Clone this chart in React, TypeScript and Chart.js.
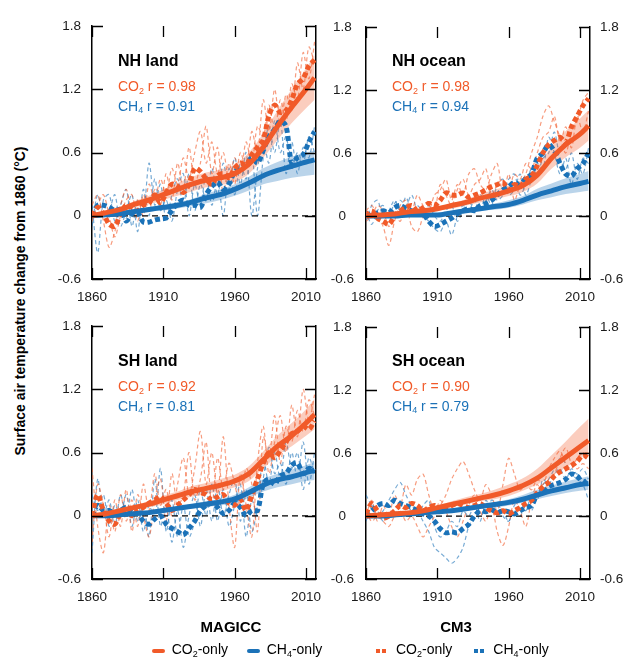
import React, { useEffect, useRef } from 'react';
import { Chart, registerables } from 'chart.js';

Chart.register(...registerables);

const FONT = '"Liberation Sans", Arial, Helvetica, sans-serif';
const ORANGE = '#F15A29';
const BLUE = '#1B72B8';
const ORANGE_BAND = 'rgba(241,90,41,0.30)';
const BLUE_BAND = 'rgba(27,114,184,0.30)';
const ORANGE_THIN = 'rgba(241,90,41,0.60)';
const BLUE_THIN = 'rgba(27,114,184,0.60)';

// ---------- shared axes ----------
const xTicks = [1860, 1910, 1960, 2010];
const yTicks = [-0.6, 0, 0.6, 1.2, 1.8];
const X_MIN = 1860;
const X_MAX = 2017;

// MAGICC years (decadal + last year)
const magYears = [1860, 1870, 1880, 1890, 1900, 1910, 1920, 1930, 1940, 1950, 1960, 1970, 1980, 1990, 2000, 2010, 2016];
// CM3 years (4-yearly)
const cm3Years = [1860, 1864, 1868, 1872, 1876, 1880, 1884, 1888, 1892, 1896,
  1900, 1904, 1908, 1912, 1916, 1920, 1924, 1928, 1932, 1936,
  1940, 1944, 1948, 1952, 1956, 1960, 1964, 1968, 1972, 1976,
  1980, 1984, 1988, 1992, 1996, 2000, 2004, 2008, 2012, 2016];

// ---------- NH land ----------
const nhLandMagCO2 = [0.0, 0.03, 0.06, 0.11, 0.15, 0.20, 0.25, 0.30, 0.34, 0.36, 0.40, 0.49, 0.65, 0.85, 1.03, 1.20, 1.31];
const nhLandMagCO2Lo = [0.0, 0.02, 0.04, 0.08, 0.11, 0.15, 0.19, 0.23, 0.27, 0.29, 0.32, 0.40, 0.55, 0.72, 0.88, 1.02, 1.10];
const nhLandMagCO2Hi = [0.0, 0.04, 0.08, 0.14, 0.19, 0.25, 0.31, 0.37, 0.41, 0.44, 0.49, 0.60, 0.78, 1.00, 1.20, 1.40, 1.52];
const nhLandMagCH4 = [0.0, 0.01, 0.02, 0.04, 0.06, 0.08, 0.10, 0.13, 0.17, 0.20, 0.25, 0.31, 0.38, 0.43, 0.47, 0.51, 0.53];
const nhLandMagCH4Lo = [0.0, 0.0, 0.01, 0.02, 0.04, 0.05, 0.07, 0.09, 0.12, 0.15, 0.19, 0.24, 0.30, 0.33, 0.36, 0.38, 0.39];
const nhLandMagCH4Hi = [0.0, 0.02, 0.03, 0.05, 0.08, 0.10, 0.13, 0.16, 0.21, 0.25, 0.30, 0.37, 0.45, 0.51, 0.56, 0.60, 0.62];
const nhLandCm3CO2 = [0.0, 0.08, 0.02, -0.08, -0.10, 0.02, 0.10, 0.08, 0.05, 0.10,
  0.12, 0.20, 0.12, 0.22, 0.30, 0.28, 0.22, 0.30, 0.45, 0.42,
  0.35, 0.30, 0.38, 0.40, 0.36, 0.45, 0.50, 0.48, 0.58, 0.65,
  0.72, 0.95, 1.05, 0.98, 1.00, 1.10, 1.25, 1.30, 1.42, 1.48];
const nhLandCm3CH4 = [0.0, 0.10, 0.10, 0.08, 0.05, 0.06, -0.05, 0.02, 0.03, -0.06,
  -0.06, -0.04, -0.03, -0.02, 0.05, 0.12, 0.15, 0.10, 0.10, 0.08,
  0.20, 0.28, 0.32, 0.25, 0.30, 0.42, 0.45, 0.48, 0.55, 0.50,
  0.62, 0.75, 0.82, 0.90, 0.85, 0.50, 0.55, 0.58, 0.70, 0.80];
const nhLandCO2RunA = [0.10, 0.20, -0.05, -0.30, -0.15, 0.10, 0.25, 0.05, 0.15, 0.00,
  0.30, 0.15, 0.35, 0.20, 0.45, 0.30, 0.55, 0.35, 0.60, 0.80,
  0.50, 0.70, 0.40, 0.60, 0.35, 0.55, 0.40, 0.70, 0.50, 0.85,
  0.75, 1.05, 0.80, 1.10, 0.90, 1.25, 1.10, 1.55, 1.30, 1.65];
const nhLandCO2RunB = [-0.05, 0.10, 0.20, 0.00, -0.20, 0.00, 0.15, 0.20, -0.05, 0.20,
  0.05, 0.25, 0.10, 0.40, 0.15, 0.50, 0.25, 0.65, 0.30, 0.50,
  0.85, 0.40, 0.65, 0.20, 0.50, 0.30, 0.60, 0.45, 0.80, 0.60,
  1.10, 0.80, 1.20, 0.85, 1.15, 1.00, 1.45, 1.20, 1.60, 1.45];
const nhLandCH4RunA = [0.10, -0.35, 0.15, 0.20, -0.05, 0.10, 0.25, -0.10, 0.15, 0.05,
  0.50, 0.10, 0.30, -0.05, 0.20, 0.35, 0.10, 0.40, 0.05, 0.30,
  0.15, 0.45, 0.20, 0.50, 0.25, 0.55, 0.30, 0.60, 0.00, 0.45,
  0.70, 0.50, 0.90, 0.60, 0.75, 0.45, 0.60, 0.50, 0.75, 0.60];
const nhLandCH4RunB = [-0.10, 0.20, 0.00, 0.05, 0.20, -0.10, 0.05, 0.20, -0.15, 0.25,
  0.00, 0.35, 0.05, 0.15, -0.05, 0.25, 0.40, 0.00, 0.30, 0.10,
  0.40, 0.10, 0.35, 0.00, 0.45, 0.20, 0.50, 0.35, 0.60, 0.00,
  0.55, 0.85, 0.60, 0.90, 0.40, 0.70, 0.40, 0.65, 0.55, 0.85];

// ---------- NH ocean ----------
const nhOceanMagCO2 = [0.0, 0.01, 0.02, 0.04, 0.05, 0.07, 0.10, 0.13, 0.17, 0.20, 0.24, 0.29, 0.39, 0.55, 0.68, 0.78, 0.86];
const nhOceanMagCO2Lo = [0.0, 0.0, 0.01, 0.02, 0.03, 0.05, 0.07, 0.10, 0.13, 0.16, 0.19, 0.23, 0.31, 0.45, 0.56, 0.65, 0.72];
const nhOceanMagCO2Hi = [0.0, 0.02, 0.03, 0.05, 0.07, 0.09, 0.12, 0.16, 0.21, 0.25, 0.29, 0.35, 0.47, 0.66, 0.81, 0.93, 1.01];
const nhOceanMagCH4 = [0.0, 0.0, 0.0, 0.01, 0.01, 0.01, 0.03, 0.05, 0.07, 0.09, 0.11, 0.15, 0.20, 0.24, 0.28, 0.31, 0.33];
const nhOceanMagCH4Lo = [0.0, 0.0, 0.0, 0.0, 0.0, 0.0, 0.02, 0.03, 0.05, 0.06, 0.08, 0.11, 0.15, 0.18, 0.21, 0.23, 0.24];
const nhOceanMagCH4Hi = [0.0, 0.01, 0.01, 0.02, 0.02, 0.03, 0.05, 0.07, 0.09, 0.12, 0.15, 0.19, 0.26, 0.31, 0.36, 0.40, 0.43];
const nhOceanCm3CO2 = [0.0, 0.05, -0.02, -0.05, -0.08, 0.00, 0.05, 0.08, 0.10, 0.05,
  0.08, 0.12, 0.10, 0.15, 0.22, 0.20, 0.20, 0.22, 0.18, 0.20,
  0.22, 0.25, 0.28, 0.30, 0.32, 0.25, 0.30, 0.28, 0.35, 0.38,
  0.48, 0.60, 0.68, 0.72, 0.75, 0.70, 0.85, 0.95, 1.05, 1.12];
const nhOceanCm3CH4 = [0.0, 0.02, 0.03, 0.05, 0.03, 0.08, 0.10, 0.07, 0.05, 0.03,
  0.02, -0.05, -0.10, -0.08, -0.05, -0.02, 0.02, 0.05, 0.07, 0.05,
  0.10, 0.12, 0.15, 0.20, 0.25, 0.28, 0.32, 0.30, 0.36, 0.40,
  0.55, 0.60, 0.68, 0.62, 0.50, 0.40, 0.38, 0.45, 0.50, 0.60];
const nhOceanCO2RunA = [0.05, 0.10, 0.00, -0.10, -0.28, -0.05, 0.10, 0.15, 0.05, 0.20,
  0.10, 0.05, 0.20, 0.25, 0.35, 0.15, 0.30, 0.20, 0.40, 0.45,
  0.30, 0.25, 0.40, 0.50, 0.20, 0.40, 0.15, 0.30, 0.40, 0.60,
  0.75, 0.95, 1.05, 0.90, 0.75, 0.60, 0.80, 0.90, 1.10, 1.18];
const nhOceanCO2RunB = [-0.05, 0.00, 0.10, 0.05, -0.10, 0.00, -0.05, 0.10, -0.10, -0.15,
  0.00, 0.15, 0.05, 0.30, 0.20, 0.10, 0.25, 0.35, 0.20, 0.30,
  0.35, 0.45, 0.20, 0.30, 0.35, 0.25, 0.40, 0.35, 0.50, 0.45,
  0.60, 0.75, 0.80, 0.95, 0.70, 0.85, 0.65, 0.95, 0.80, 1.00];
const nhOceanCH4RunA = [0.05, -0.08, 0.05, 0.10, 0.00, 0.12, 0.15, 0.10, 0.20, 0.05,
  0.00, -0.05, -0.12, -0.15, -0.05, -0.18, 0.00, 0.10, 0.05, 0.15,
  0.05, 0.20, 0.10, 0.30, 0.35, 0.20, 0.25, 0.40, 0.20, 0.35,
  0.50, 0.45, 0.75, 0.60, 0.40, 0.55, 0.30, 0.50, 0.40, 0.65];
const nhOceanCH4RunB = [-0.05, 0.10, 0.15, 0.00, 0.05, 0.15, 0.05, 0.18, 0.05, 0.10,
  0.05, 0.10, 0.00, -0.05, 0.05, 0.10, -0.05, 0.05, 0.15, 0.05,
  0.20, 0.15, 0.25, 0.15, 0.20, 0.35, 0.40, 0.20, 0.30, 0.45,
  0.40, 0.55, 0.60, 0.80, 0.55, 0.45, 0.60, 0.35, 0.55, 0.50];

// ---------- SH land ----------
const shLandMagCO2 = [0.0, 0.02, 0.05, 0.08, 0.11, 0.15, 0.19, 0.23, 0.26, 0.29, 0.33, 0.40, 0.53, 0.66, 0.76, 0.88, 0.96];
const shLandMagCO2Lo = [0.0, 0.01, 0.03, 0.06, 0.08, 0.11, 0.15, 0.18, 0.21, 0.23, 0.27, 0.33, 0.45, 0.57, 0.66, 0.76, 0.82];
const shLandMagCO2Hi = [0.0, 0.03, 0.07, 0.10, 0.14, 0.19, 0.23, 0.28, 0.31, 0.35, 0.39, 0.47, 0.61, 0.76, 0.88, 1.01, 1.11];
const shLandMagCH4 = [0.0, 0.0, 0.01, 0.02, 0.03, 0.05, 0.07, 0.09, 0.11, 0.13, 0.16, 0.22, 0.29, 0.34, 0.37, 0.41, 0.43];
const shLandMagCH4Lo = [0.0, 0.0, 0.0, 0.01, 0.02, 0.03, 0.05, 0.07, 0.08, 0.10, 0.12, 0.17, 0.23, 0.27, 0.30, 0.33, 0.34];
const shLandMagCH4Hi = [0.0, 0.01, 0.02, 0.03, 0.04, 0.07, 0.09, 0.11, 0.14, 0.16, 0.20, 0.27, 0.35, 0.40, 0.44, 0.48, 0.51];
const shLandCm3CO2 = [0.0, 0.20, 0.05, -0.05, -0.08, 0.02, 0.05, 0.00, 0.05, 0.08,
  0.12, 0.15, 0.18, 0.12, 0.05, 0.10, 0.15, 0.20, 0.25, 0.22,
  0.20, 0.15, 0.18, 0.20, 0.12, 0.10, 0.15, 0.05, 0.20, 0.35,
  0.50, 0.60, 0.55, 0.62, 0.70, 0.78, 0.80, 0.85, 0.82, 0.90];
const shLandCm3CH4 = [0.0, 0.10, 0.05, 0.05, 0.02, 0.05, 0.08, 0.03, 0.02, -0.05,
  -0.08, -0.03, 0.00, -0.08, -0.12, -0.15, -0.18, -0.12, -0.05, 0.05,
  0.10, 0.12, 0.08, 0.02, 0.05, 0.12, 0.08, 0.00, 0.05, 0.05,
  0.30, 0.35, 0.30, 0.38, 0.40, 0.48, 0.50, 0.40, 0.45, 0.42];
const shLandCO2RunA = [0.45, -0.10, -0.35, 0.10, -0.15, 0.20, -0.05, 0.15, -0.10, 0.30,
  0.05, 0.40, 0.10, 0.25, 0.00, 0.30, 0.55, 0.20, 0.45, 0.80,
  0.30, 0.60, 0.20, 0.75, 0.10, -0.30, 0.40, 0.10, -0.20, 0.50,
  0.85, 0.40, 0.70, 0.95, 0.60, 1.05, 0.75, 1.20, 0.90, 1.15];
const shLandCO2RunB = [-0.25, 0.30, 0.10, -0.20, 0.15, -0.10, 0.25, -0.15, 0.20, 0.00,
  -0.20, 0.15, 0.35, -0.05, 0.40, 0.10, 0.20, 0.60, 0.15, 0.35,
  0.70, 0.10, 0.55, 0.25, 0.50, 0.30, 0.10, 0.45, 0.30, -0.15,
  0.75, 0.55, 0.95, 0.50, 0.85, 0.70, 1.00, 0.80, 1.10, 0.95];
const shLandCH4RunA = [-0.35, 0.35, 0.00, 0.15, -0.10, 0.20, 0.00, 0.25, -0.05, 0.10,
  -0.20, 0.35, -0.10, 0.10, -0.25, 0.05, -0.30, 0.00, 0.20, -0.10,
  0.25, -0.05, 0.30, 0.00, 0.20, 0.35, -0.05, 0.25, -0.15, 0.10,
  0.55, 0.30, 0.60, 0.35, 0.70, 0.45, 0.60, 0.25, 0.55, 0.40];
const shLandCH4RunB = [0.20, 0.05, 0.20, -0.10, 0.10, 0.00, 0.20, -0.10, 0.15, -0.15,
  0.10, -0.05, 0.45, -0.15, 0.15, -0.20, 0.10, -0.20, -0.05, 0.25,
  0.00, 0.30, -0.05, 0.25, -0.10, 0.10, 0.30, -0.20, 0.15, 0.00,
  0.35, 0.65, 0.40, 0.50, 0.30, 0.60, 0.35, 0.70, 0.30, 0.60];

// ---------- SH ocean ----------
const shOceanMagCO2 = [0.0, 0.01, 0.02, 0.03, 0.05, 0.08, 0.11, 0.14, 0.17, 0.20, 0.24, 0.29, 0.36, 0.46, 0.56, 0.66, 0.72];
const shOceanMagCO2Lo = [0.0, 0.0, 0.01, 0.02, 0.04, 0.06, 0.09, 0.11, 0.14, 0.16, 0.19, 0.24, 0.30, 0.38, 0.46, 0.55, 0.60];
const shOceanMagCO2Hi = [0.0, 0.02, 0.03, 0.05, 0.07, 0.10, 0.14, 0.18, 0.21, 0.25, 0.30, 0.36, 0.45, 0.58, 0.71, 0.85, 0.93];
const shOceanMagCH4 = [0.0, 0.0, 0.01, 0.02, 0.03, 0.04, 0.05, 0.07, 0.09, 0.11, 0.13, 0.16, 0.20, 0.24, 0.27, 0.30, 0.31];
const shOceanMagCH4Lo = [0.0, 0.0, 0.0, 0.01, 0.02, 0.03, 0.04, 0.05, 0.07, 0.08, 0.10, 0.13, 0.16, 0.19, 0.22, 0.24, 0.25];
const shOceanMagCH4Hi = [0.0, 0.01, 0.02, 0.03, 0.04, 0.05, 0.07, 0.09, 0.11, 0.13, 0.16, 0.20, 0.25, 0.29, 0.33, 0.36, 0.38];
const shOceanCm3CO2 = [0.02, 0.12, 0.05, -0.02, 0.00, 0.05, 0.10, 0.08, 0.12, 0.10,
  0.05, 0.08, 0.10, 0.05, 0.08, 0.10, 0.12, 0.10, 0.08, 0.10,
  0.12, 0.08, 0.05, 0.03, 0.05, 0.02, 0.05, 0.08, 0.12, 0.15,
  0.22, 0.28, 0.32, 0.38, 0.42, 0.45, 0.48, 0.52, 0.58, 0.55];
const shOceanCm3CH4 = [0.0, 0.05, 0.10, 0.12, 0.10, 0.15, 0.12, 0.10, 0.08, 0.05,
  0.02, 0.00, -0.05, -0.12, -0.16, -0.15, -0.16, -0.12, -0.08, 0.00,
  0.05, 0.04, 0.06, 0.03, 0.05, 0.04, 0.02, 0.05, 0.08, 0.10,
  0.20, 0.22, 0.28, 0.30, 0.32, 0.35, 0.40, 0.38, 0.32, 0.35];
const shOceanCO2RunA = [0.00, 0.15, -0.05, 0.10, 0.00, 0.20, 0.10, 0.30, 0.20, 0.35,
  0.40, 0.20, 0.05, 0.10, 0.20, 0.35, 0.45, 0.52, 0.40, 0.25,
  0.15, 0.30, 0.20, 0.05, 0.30, 0.55, 0.40, 0.25, 0.30, 0.25,
  0.35, 0.30, 0.45, 0.55, 0.62, 0.50, 0.45, 0.55, 0.60, 0.60];
const shOceanCO2RunB = [0.05, -0.05, 0.00, -0.05, -0.10, 0.00, 0.05, -0.05, 0.00, -0.10,
  -0.20, -0.10, 0.00, 0.15, 0.05, -0.10, -0.20, -0.05, 0.10, 0.20,
  0.05, -0.05, 0.10, -0.15, -0.28, -0.10, 0.15, 0.05, -0.10, 0.15,
  0.30, 0.20, 0.35, 0.40, 0.55, 0.65, 0.50, 0.45, 0.50, 0.45];
const shOceanCH4RunA = [-0.05, 0.10, 0.00, 0.05, 0.15, 0.25, 0.32, 0.20, 0.10, 0.05,
  -0.05, -0.15, -0.30, -0.35, -0.40, -0.45, -0.40, -0.30, -0.10, 0.00,
  0.10, 0.05, 0.15, 0.10, 0.00, -0.05, 0.05, 0.00, 0.10, 0.05,
  0.20, 0.30, 0.35, 0.45, 0.55, 0.50, 0.40, 0.35, 0.30, 0.15];
const shOceanCH4RunB = [0.20, 0.10, 0.05, -0.05, 0.00, 0.05, 0.00, 0.10, 0.05, 0.00,
  0.10, 0.15, -0.10, -0.20, -0.15, -0.05, -0.10, 0.05, 0.00, 0.10,
  -0.05, 0.15, 0.05, 0.10, 0.05, -0.05, 0.10, 0.15, 0.05, 0.20,
  0.15, 0.35, 0.30, 0.40, 0.45, 0.35, 0.45, 0.40, 0.45, 0.35];

// ---------- panel text ----------
const panelTitles = ['NH land', 'NH ocean', 'SH land', 'SH ocean'];
const co2Corr = ['0.98', '0.98', '0.92', '0.90'];
const ch4Corr = ['0.91', '0.94', '0.81', '0.79'];

type Panel = {
  title: string; co2R: string; ch4R: string;
  left: number; top: number; isRight: boolean;
  magCO2: number[]; magCO2Lo: number[]; magCO2Hi: number[];
  magCH4: number[]; magCH4Lo: number[]; magCH4Hi: number[];
  cm3CO2: number[]; cm3CH4: number[];
  co2Runs: number[][]; ch4Runs: number[][];
};

const PLOT_W = 224;
const PLOT_H = 260;
const AX_L = 60;
const AX_R = 40;
const PAD_T = 12;
const AX_B = 30;

const panels: Panel[] = [
  { title: panelTitles[0], co2R: co2Corr[0], ch4R: ch4Corr[0], left: 92, top: 19, isRight: false,
    magCO2: nhLandMagCO2, magCO2Lo: nhLandMagCO2Lo, magCO2Hi: nhLandMagCO2Hi,
    magCH4: nhLandMagCH4, magCH4Lo: nhLandMagCH4Lo, magCH4Hi: nhLandMagCH4Hi,
    cm3CO2: nhLandCm3CO2, cm3CH4: nhLandCm3CH4,
    co2Runs: [nhLandCO2RunA, nhLandCO2RunB], ch4Runs: [nhLandCH4RunA, nhLandCH4RunB] },
  { title: panelTitles[1], co2R: co2Corr[1], ch4R: ch4Corr[1], left: 366, top: 19, isRight: true,
    magCO2: nhOceanMagCO2, magCO2Lo: nhOceanMagCO2Lo, magCO2Hi: nhOceanMagCO2Hi,
    magCH4: nhOceanMagCH4, magCH4Lo: nhOceanMagCH4Lo, magCH4Hi: nhOceanMagCH4Hi,
    cm3CO2: nhOceanCm3CO2, cm3CH4: nhOceanCm3CH4,
    co2Runs: [nhOceanCO2RunA, nhOceanCO2RunB], ch4Runs: [nhOceanCH4RunA, nhOceanCH4RunB] },
  { title: panelTitles[2], co2R: co2Corr[2], ch4R: ch4Corr[2], left: 92, top: 319, isRight: false,
    magCO2: shLandMagCO2, magCO2Lo: shLandMagCO2Lo, magCO2Hi: shLandMagCO2Hi,
    magCH4: shLandMagCH4, magCH4Lo: shLandMagCH4Lo, magCH4Hi: shLandMagCH4Hi,
    cm3CO2: shLandCm3CO2, cm3CH4: shLandCm3CH4,
    co2Runs: [shLandCO2RunA, shLandCO2RunB], ch4Runs: [shLandCH4RunA, shLandCH4RunB] },
  { title: panelTitles[3], co2R: co2Corr[3], ch4R: ch4Corr[3], left: 366, top: 319, isRight: true,
    magCO2: shOceanMagCO2, magCO2Lo: shOceanMagCO2Lo, magCO2Hi: shOceanMagCO2Hi,
    magCH4: shOceanMagCH4, magCH4Lo: shOceanMagCH4Lo, magCH4Hi: shOceanMagCH4Hi,
    cm3CO2: shOceanCm3CO2, cm3CH4: shOceanCm3CH4,
    co2Runs: [shOceanCO2RunA, shOceanCO2RunB], ch4Runs: [shOceanCH4RunA, shOceanCH4RunB] },
];

const TICK_LEN = 11;
const innerTicks = {
  id: 'innerTicks',
  afterDraw(chart: any) {
    const { ctx, chartArea: a, scales } = chart;
    ctx.save();
    ctx.strokeStyle = '#000';
    ctx.lineWidth = 1.3;
    ctx.beginPath();
    yTicks.forEach((v) => {
      const y = Math.round(scales.y.getPixelForValue(v)) + 0.5;
      ctx.moveTo(a.left, y); ctx.lineTo(a.left + TICK_LEN, y);
      ctx.moveTo(a.right, y); ctx.lineTo(a.right - TICK_LEN, y);
    });
    xTicks.forEach((v) => {
      const x = Math.round(scales.x.getPixelForValue(v)) + 0.5;
      ctx.moveTo(x, a.top); ctx.lineTo(x, a.top + TICK_LEN);
      ctx.moveTo(x, a.bottom); ctx.lineTo(x, a.bottom - TICK_LEN);
    });
    ctx.stroke();
    ctx.restore();
  },
};

const xy = (xs: number[], ys: number[]) => ys.map((y, i) => ({ x: xs[i], y }));

function PanelChart({ p }: { p: Panel }) {
  const ref = useRef<HTMLCanvasElement | null>(null);
  useEffect(() => {
    if (!ref.current) return;
    const tickFont = { family: FONT, size: 13.5 };
    const smooth = { pointRadius: 0, cubicInterpolationMode: 'monotone' as const, fill: false };
    const datasets: any[] = [
      { ...smooth, data: xy(magYears, p.magCO2), borderColor: ORANGE, borderWidth: 5 },
      { ...smooth, data: xy(magYears, p.magCH4), borderColor: BLUE, borderWidth: 5 },
      { data: xy(cm3Years, p.cm3CO2), borderColor: ORANGE, borderWidth: 5, borderDash: [5, 3], tension: 0.3, pointRadius: 0, fill: false },
      { data: xy(cm3Years, p.cm3CH4), borderColor: BLUE, borderWidth: 5, borderDash: [5, 3], tension: 0.3, pointRadius: 0, fill: false },
      { data: [{ x: X_MIN, y: 0 }, { x: X_MAX, y: 0 }], borderColor: '#000', borderWidth: 1.2, borderDash: [6, 4], pointRadius: 0, fill: false },
      { ...smooth, data: xy(magYears, p.magCO2Hi), borderWidth: 0, borderColor: 'rgba(0,0,0,0)', backgroundColor: ORANGE_BAND, fill: '+1' },
      { ...smooth, data: xy(magYears, p.magCO2Lo), borderWidth: 0, borderColor: 'rgba(0,0,0,0)' },
      { ...smooth, data: xy(magYears, p.magCH4Hi), borderWidth: 0, borderColor: 'rgba(0,0,0,0)', backgroundColor: BLUE_BAND, fill: '+1' },
      { ...smooth, data: xy(magYears, p.magCH4Lo), borderWidth: 0, borderColor: 'rgba(0,0,0,0)' },
      ...p.co2Runs.map((r) => ({ data: xy(cm3Years, r), borderColor: ORANGE_THIN, borderWidth: 1.2, borderDash: [4, 3], tension: 0.3, pointRadius: 0, fill: false })),
      ...p.ch4Runs.map((r) => ({ data: xy(cm3Years, r), borderColor: BLUE_THIN, borderWidth: 1.2, borderDash: [4, 3], tension: 0.3, pointRadius: 0, fill: false })),
    ];
    const yScale = (position: 'left' | 'right', show: boolean, align: 'near' | 'center', pad: number, width: number) => ({
      type: 'linear', position, min: -0.6, max: 1.8,
      grid: { display: false, drawTicks: false },
      border: { display: true, color: '#000', width: 1.5 },
      ticks: { display: show, font: tickFont, color: '#1a1a1a', padding: pad, crossAlign: align, autoSkip: false, callback: (v: any) => String(v) },
      afterBuildTicks: (s: any) => { s.ticks = yTicks.map((v) => ({ value: v })); },
      afterFit: (s: any) => { s.width = width; },
    });
    const chart = new Chart(ref.current, {
      type: 'line',
      data: { datasets },
      options: {
        responsive: false,
        animation: false,
        events: [],
        layout: { padding: { top: PAD_T, left: 0, right: 0, bottom: 0 } },
        plugins: { legend: { display: false }, tooltip: { enabled: false } },
        scales: {
          x: {
            type: 'linear', min: X_MIN, max: X_MAX,
            grid: { display: false, drawTicks: false },
            border: { display: true, color: '#000', width: 1.5 },
            ticks: { font: tickFont, color: '#1a1a1a', padding: 10, maxRotation: 0, autoSkip: false, callback: (v: any) => String(v) },
            afterBuildTicks: (s: any) => { s.ticks = xTicks.map((v) => ({ value: v })); },
            afterFit: (s: any) => { s.height = AX_B; },
          },
          y: yScale('left', true, p.isRight ? 'center' : 'near', p.isRight ? 12 : 11, AX_L),
          y2: yScale('right', p.isRight, 'near', 10, AX_R),
        } as any,
      },
      plugins: [innerTicks],
    } as any);
    return () => chart.destroy();
  }, [p]);
  return (
    <canvas
      ref={ref}
      width={AX_L + PLOT_W + AX_R}
      height={PAD_T + PLOT_H + AX_B}
      style={{ position: 'absolute', left: p.left - AX_L, top: p.top - PAD_T, width: AX_L + PLOT_W + AX_R, height: PAD_T + PLOT_H + AX_B }}
    />
  );
}

const Sub = ({ c }: { c: string }) => (
  <span style={{ fontSize: '0.64em', position: 'relative', top: '0.32em', lineHeight: 0 }}>{c}</span>
);

function PanelText({ p }: { p: Panel }) {
  const base: React.CSSProperties = { position: 'absolute', left: p.left + 26, whiteSpace: 'nowrap', fontFamily: FONT };
  return (
    <>
      <div style={{ ...base, top: p.top + 33.5, fontSize: 16, lineHeight: '16px', fontWeight: 'bold', color: '#000' }}>{p.title}</div>
      <div style={{ ...base, top: p.top + 60, fontSize: 14, lineHeight: '14px', color: ORANGE }}>CO<Sub c="2" /> r = {p.co2R}</div>
      <div style={{ ...base, top: p.top + 79.5, fontSize: 14, lineHeight: '14px', color: BLUE }}>CH<Sub c="4" /> r = {p.ch4R}</div>
    </>
  );
}

function LegendEntry({ kind, color, sx, tx, gas, sub }: { kind: 'solid' | 'dotted'; color: string; sx: number; tx: number; gas: string; sub: string }) {
  return (
    <>
      {kind === 'solid' ? (
        <div style={{ position: 'absolute', left: sx, top: 648.7, width: 13, height: 4, borderRadius: 2, background: color }} />
      ) : (
        <>
          <div style={{ position: 'absolute', left: sx, top: 648.5, width: 4, height: 4, background: color }} />
          <div style={{ position: 'absolute', left: sx + 6, top: 648.5, width: 4, height: 4, background: color }} />
        </>
      )}
      <div style={{ position: 'absolute', left: tx, top: 642.3, fontSize: 14, lineHeight: '14px', fontFamily: FONT, color: '#000', whiteSpace: 'nowrap' }}>
        {gas}<Sub c={sub} />-only
      </div>
    </>
  );
}

export default function App() {
  return (
    <div style={{ position: 'absolute', left: 0, top: 0, width: 631, height: 658, overflow: 'hidden', background: '#fff', fontFamily: FONT }}>
      {panels.map((p, i) => <PanelChart key={'c' + i} p={p} />)}
      {panels.map((p, i) => <PanelText key={'t' + i} p={p} />)}
      <div style={{ position: 'absolute', left: 20, top: 301, transform: 'translate(-50%, -50%) rotate(-90deg)', whiteSpace: 'nowrap', fontWeight: 'bold', fontSize: 14, lineHeight: '14px', fontFamily: FONT, color: '#000' }}>
        Surface air temperature change from 1860 (°C)
      </div>
      <div style={{ position: 'absolute', left: 231, top: 619.3, transform: 'translateX(-50%)', fontWeight: 'bold', fontSize: 15, lineHeight: '15px', fontFamily: FONT }}>MAGICC</div>
      <div style={{ position: 'absolute', left: 456, top: 619.3, transform: 'translateX(-50%)', fontWeight: 'bold', fontSize: 15, lineHeight: '15px', fontFamily: FONT }}>CM3</div>
      <LegendEntry kind="solid" color={ORANGE} sx={152} tx={171.7} gas="CO" sub="2" />
      <LegendEntry kind="solid" color={BLUE} sx={247} tx={266.7} gas="CH" sub="4" />
      <LegendEntry kind="dotted" color={ORANGE} sx={375.5} tx={396} gas="CO" sub="2" />
      <LegendEntry kind="dotted" color={BLUE} sx={473.5} tx={493.3} gas="CH" sub="4" />
    </div>
  );
}
